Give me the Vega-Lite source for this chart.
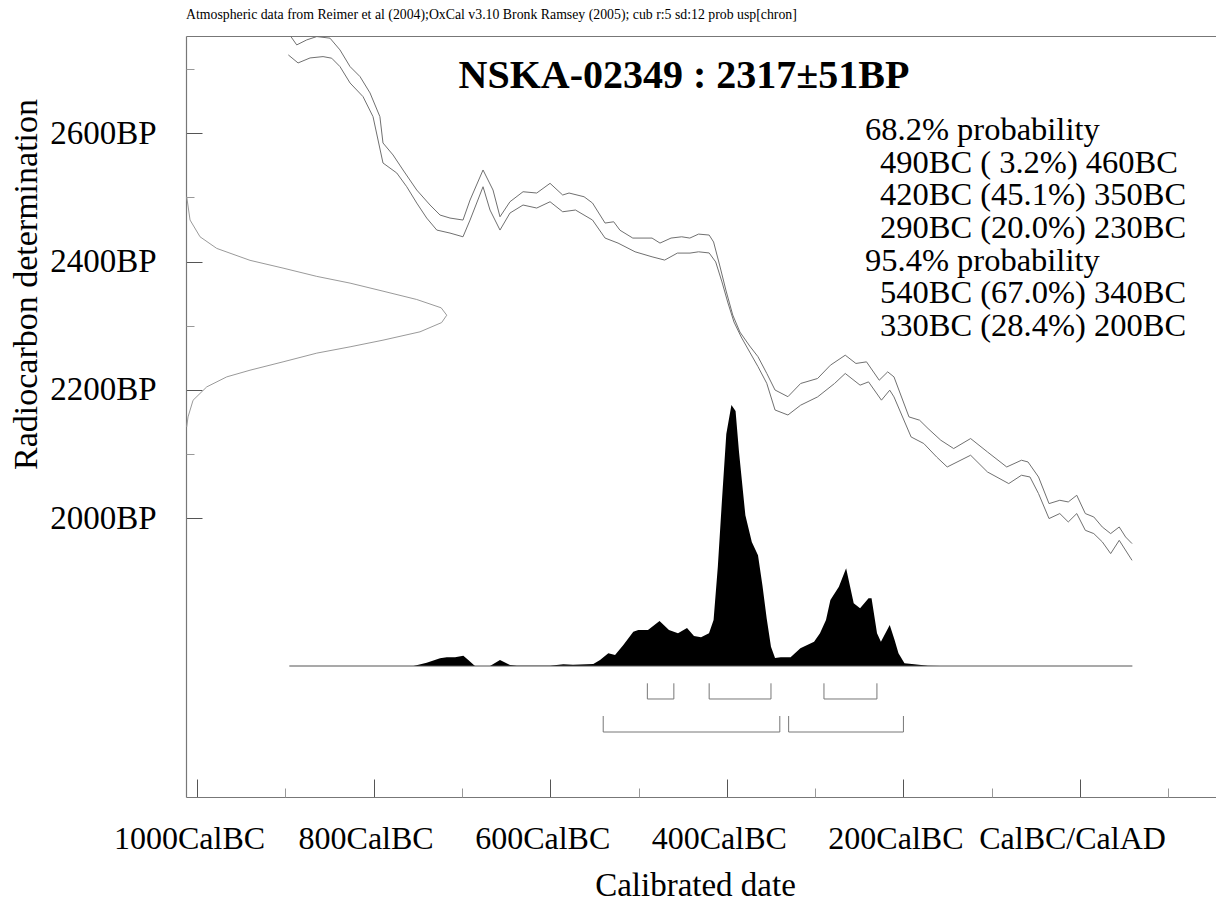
{
  "$schema": "https://vega.github.io/schema/vega-lite/v6.json",
  "width": 1030,
  "height": 761,
  "autosize": {"type": "none"},
  "padding": {"left": 186, "top": 36, "right": 0, "bottom": 107},
  "background": "white",
  "config": {
    "view": {"stroke": null},
    "font": "Liberation Serif",
    "axis": {"labelFont": "Liberation Serif", "titleFont": "Liberation Serif", "labelColor": "black", "titleColor": "black", "titleFontWeight": "normal", "grid": false, "labelFlush": false, "labelOverlap": false, "labelBound": false, "labelLimit": 1000}
  },
  "title": {"text": "Atmospheric data from Reimer et al (2004);OxCal v3.10 Bronk Ramsey (2005); cub r:5 sd:12 prob usp[chron]", "anchor": "start", "frame": "group", "font": "Liberation Serif", "fontSize": 13.8, "fontWeight": "normal", "color": "black", "baseline": "alphabetic", "offset": 3},
  "datasets": {
    "calib": [
      {"band": "upper", "yr": -896.6, "bp": 2756.4}, {"band": "upper", "yr": -887.1, "bp": 2737.7}, {"band": "upper", "yr": -875.8, "bp": 2745.5}, {"band": "upper", "yr": -864.4, "bp": 2750.7}, {"band": "upper", "yr": -849.4, "bp": 2748.2}, {"band": "upper", "yr": -838.1, "bp": 2729.9}, {"band": "upper", "yr": -826.7, "bp": 2703.9}, {"band": "upper", "yr": -815.4, "bp": 2688.3}, {"band": "upper", "yr": -804.1, "bp": 2662.9}, {"band": "upper", "yr": -792.9, "bp": 2625.9}, {"band": "upper", "yr": -789.4, "bp": 2584.9}, {"band": "upper", "yr": -778.0, "bp": 2566.2}, {"band": "upper", "yr": -766.7, "bp": 2542.8}, {"band": "upper", "yr": -751.2, "bp": 2511.6}, {"band": "upper", "yr": -736.1, "bp": 2488.2}, {"band": "upper", "yr": -724.8, "bp": 2472.6}, {"band": "upper", "yr": -713.5, "bp": 2467.9}, {"band": "upper", "yr": -698.8, "bp": 2464.8}, {"band": "upper", "yr": -690.8, "bp": 2496.0}, {"band": "upper", "yr": -676.1, "bp": 2542.8}, {"band": "upper", "yr": -664.8, "bp": 2511.6}, {"band": "upper", "yr": -656.9, "bp": 2469.9}, {"band": "upper", "yr": -645.6, "bp": 2493.3}, {"band": "upper", "yr": -630.8, "bp": 2508.9}, {"band": "upper", "yr": -615.3, "bp": 2506.9}, {"band": "upper", "yr": -600.2, "bp": 2522.0}, {"band": "upper", "yr": -585.9, "bp": 2503.8}, {"band": "upper", "yr": -578.7, "bp": 2506.9}, {"band": "upper", "yr": -561.7, "bp": 2501.1}, {"band": "upper", "yr": -552.1, "bp": 2491.3}, {"band": "upper", "yr": -537.9, "bp": 2460.1}, {"band": "upper", "yr": -528.1, "bp": 2462.1}, {"band": "upper", "yr": -521.0, "bp": 2448.9}, {"band": "upper", "yr": -506.5, "bp": 2436.7}, {"band": "upper", "yr": -484.7, "bp": 2436.7}, {"band": "upper", "yr": -475.7, "bp": 2428.9}, {"band": "upper", "yr": -463.2, "bp": 2436.7}, {"band": "upper", "yr": -451.1, "bp": 2438.7}, {"band": "upper", "yr": -441.9, "bp": 2436.7}, {"band": "upper", "yr": -432.0, "bp": 2442.9}, {"band": "upper", "yr": -420.0, "bp": 2441.4}, {"band": "upper", "yr": -415.0, "bp": 2430.6}, {"band": "upper", "yr": -407.9, "bp": 2393.2}, {"band": "upper", "yr": -401.1, "bp": 2355.8}, {"band": "upper", "yr": -393.3, "bp": 2316.8}, {"band": "upper", "yr": -385.2, "bp": 2290.3}, {"band": "upper", "yr": -374.1, "bp": 2268.5}, {"band": "upper", "yr": -364.7, "bp": 2251.8}, {"band": "upper", "yr": -354.8, "bp": 2225.9}, {"band": "upper", "yr": -345.4, "bp": 2199.9}, {"band": "upper", "yr": -330.8, "bp": 2189.5}, {"band": "upper", "yr": -316.4, "bp": 2210.1}, {"band": "upper", "yr": -297.2, "bp": 2217.9}, {"band": "upper", "yr": -282.7, "bp": 2238.6}, {"band": "upper", "yr": -265.9, "bp": 2254.2}, {"band": "upper", "yr": -253.8, "bp": 2241.3}, {"band": "upper", "yr": -241.8, "bp": 2243.8}, {"band": "upper", "yr": -227.4, "bp": 2215.2}, {"band": "upper", "yr": -217.8, "bp": 2228.2}, {"band": "upper", "yr": -210.7, "bp": 2220.4}, {"band": "upper", "yr": -193.7, "bp": 2158.0}, {"band": "upper", "yr": -181.7, "bp": 2152.9}, {"band": "upper", "yr": -172.1, "bp": 2139.9}, {"band": "upper", "yr": -157.7, "bp": 2121.7}, {"band": "upper", "yr": -143.1, "bp": 2108.7}, {"band": "upper", "yr": -123.9, "bp": 2124.3}, {"band": "upper", "yr": -104.8, "bp": 2103.4}, {"band": "upper", "yr": -83.0, "bp": 2080.0}, {"band": "upper", "yr": -66.3, "bp": 2090.5}, {"band": "upper", "yr": -58.9, "bp": 2087.8}, {"band": "upper", "yr": -47.0, "bp": 2064.4}, {"band": "upper", "yr": -35.1, "bp": 2022.9}, {"band": "upper", "yr": -22.9, "bp": 2028.1}, {"band": "upper", "yr": -13.3, "bp": 2025.5}, {"band": "upper", "yr": -3.7, "bp": 2035.9}, {"band": "upper", "yr": 6.0, "bp": 2007.4}, {"band": "upper", "yr": 15.6, "bp": 2002.1}, {"band": "upper", "yr": 25.2, "bp": 1986.5}, {"band": "upper", "yr": 34.7, "bp": 1976.2}, {"band": "upper", "yr": 44.4, "bp": 1986.5}, {"band": "upper", "yr": 51.6, "bp": 1970.9}, {"band": "upper", "yr": 58.9, "bp": 1960.6},
      {"band": "lower", "yr": -896.6, "bp": 2722.1}, {"band": "lower", "yr": -885.6, "bp": 2709.6}, {"band": "lower", "yr": -872.0, "bp": 2717.4}, {"band": "lower", "yr": -857.3, "bp": 2719.5}, {"band": "lower", "yr": -847.5, "bp": 2717.0}, {"band": "lower", "yr": -838.1, "bp": 2703.9}, {"band": "lower", "yr": -826.7, "bp": 2678.4}, {"band": "lower", "yr": -812.0, "bp": 2657.1}, {"band": "lower", "yr": -800.7, "bp": 2625.9}, {"band": "lower", "yr": -789.4, "bp": 2553.7}, {"band": "lower", "yr": -773.8, "bp": 2538.1}, {"band": "lower", "yr": -762.5, "bp": 2516.7}, {"band": "lower", "yr": -751.2, "bp": 2491.3}, {"band": "lower", "yr": -739.9, "bp": 2467.9}, {"band": "lower", "yr": -728.5, "bp": 2449.2}, {"band": "lower", "yr": -713.5, "bp": 2444.5}, {"band": "lower", "yr": -698.8, "bp": 2438.7}, {"band": "lower", "yr": -690.8, "bp": 2464.8}, {"band": "lower", "yr": -676.1, "bp": 2516.7}, {"band": "lower", "yr": -668.2, "bp": 2480.4}, {"band": "lower", "yr": -656.9, "bp": 2449.2}, {"band": "lower", "yr": -645.6, "bp": 2475.7}, {"band": "lower", "yr": -630.8, "bp": 2488.2}, {"band": "lower", "yr": -615.3, "bp": 2483.5}, {"band": "lower", "yr": -600.2, "bp": 2493.3}, {"band": "lower", "yr": -585.9, "bp": 2477.7}, {"band": "lower", "yr": -571.4, "bp": 2480.4}, {"band": "lower", "yr": -552.1, "bp": 2464.8}, {"band": "lower", "yr": -537.9, "bp": 2436.7}, {"band": "lower", "yr": -523.2, "bp": 2428.9}, {"band": "lower", "yr": -503.9, "bp": 2415.3}, {"band": "lower", "yr": -484.7, "bp": 2407.5}, {"band": "lower", "yr": -470.4, "bp": 2402.4}, {"band": "lower", "yr": -456.0, "bp": 2413.3}, {"band": "lower", "yr": -441.7, "bp": 2413.3}, {"band": "lower", "yr": -432.0, "bp": 2415.3}, {"band": "lower", "yr": -420.0, "bp": 2413.5}, {"band": "lower", "yr": -412.6, "bp": 2399.5}, {"band": "lower", "yr": -405.5, "bp": 2368.3}, {"band": "lower", "yr": -398.7, "bp": 2335.5}, {"band": "lower", "yr": -391.9, "bp": 2305.9}, {"band": "lower", "yr": -383.7, "bp": 2282.5}, {"band": "lower", "yr": -374.1, "bp": 2259.1}, {"band": "lower", "yr": -364.7, "bp": 2236.3}, {"band": "lower", "yr": -354.8, "bp": 2210.4}, {"band": "lower", "yr": -345.4, "bp": 2168.8}, {"band": "lower", "yr": -330.8, "bp": 2161.0}, {"band": "lower", "yr": -316.4, "bp": 2176.3}, {"band": "lower", "yr": -297.2, "bp": 2189.2}, {"band": "lower", "yr": -278.0, "bp": 2210.1}, {"band": "lower", "yr": -265.9, "bp": 2225.7}, {"band": "lower", "yr": -249.1, "bp": 2207.5}, {"band": "lower", "yr": -239.5, "bp": 2212.6}, {"band": "lower", "yr": -224.9, "bp": 2184.1}, {"band": "lower", "yr": -215.5, "bp": 2199.7}, {"band": "lower", "yr": -210.7, "bp": 2189.2}, {"band": "lower", "yr": -191.3, "bp": 2126.8}, {"band": "lower", "yr": -176.9, "bp": 2116.5}, {"band": "lower", "yr": -162.4, "bp": 2095.6}, {"band": "lower", "yr": -150.4, "bp": 2080.0}, {"band": "lower", "yr": -123.9, "bp": 2098.3}, {"band": "lower", "yr": -104.8, "bp": 2072.2}, {"band": "lower", "yr": -80.7, "bp": 2054.1}, {"band": "lower", "yr": -66.3, "bp": 2067.1}, {"band": "lower", "yr": -56.7, "bp": 2064.4}, {"band": "lower", "yr": -47.0, "bp": 2038.5}, {"band": "lower", "yr": -35.1, "bp": 1999.6}, {"band": "lower", "yr": -22.9, "bp": 2007.4}, {"band": "lower", "yr": -13.3, "bp": 1994.3}, {"band": "lower", "yr": -3.7, "bp": 2007.4}, {"band": "lower", "yr": 6.0, "bp": 1981.3}, {"band": "lower", "yr": 15.6, "bp": 1976.2}, {"band": "lower", "yr": 25.2, "bp": 1963.3}, {"band": "lower", "yr": 34.7, "bp": 1945.0}, {"band": "lower", "yr": 44.4, "bp": 1965.7}, {"band": "lower", "yr": 58.9, "bp": 1934.5}
    ],
    "gauss": [
      {"yr": -1011.7, "bp": 2142.4}, {"yr": -1010.2, "bp": 2158.0}, {"yr": -1004.5, "bp": 2184.0}, {"yr": -989.0, "bp": 2204.8}, {"yr": -966.4, "bp": 2220.4}, {"yr": -940.0, "bp": 2230.8}, {"yr": -902.6, "bp": 2243.8}, {"yr": -864.4, "bp": 2257.4}, {"yr": -826.7, "bp": 2267.2}, {"yr": -789.4, "bp": 2277.6}, {"yr": -747.5, "bp": 2290.6}, {"yr": -723.0, "bp": 2305.0}, {"yr": -717.2, "bp": 2316.5}, {"yr": -723.5, "bp": 2328.0}, {"yr": -751.2, "bp": 2341.0}, {"yr": -789.4, "bp": 2354.0}, {"yr": -826.7, "bp": 2366.5}, {"yr": -864.4, "bp": 2377.0}, {"yr": -902.6, "bp": 2389.9}, {"yr": -940.0, "bp": 2402.0}, {"yr": -977.7, "bp": 2420.6}, {"yr": -996.6, "bp": 2438.7}, {"yr": -1007.9, "bp": 2464.8}, {"yr": -1011.7, "bp": 2501.1}
    ],
    "density": [
      {"yr": -895.5, "p": 0}, {"yr": -755.0, "p": 0}, {"yr": -739.9, "p": 0.0126}, {"yr": -724.8, "p": 0.0295}, {"yr": -717.2, "p": 0.0333}, {"yr": -707.8, "p": 0.0333}, {"yr": -698.4, "p": 0.0395}, {"yr": -692.8, "p": 0.023}, {"yr": -685.2, "p": 0}, {"yr": -668.2, "p": 0}, {"yr": -656.9, "p": 0.023}, {"yr": -645.6, "p": 0.0038}, {"yr": -637.9, "p": 0.001}, {"yr": -600.2, "p": 0.001}, {"yr": -585.2, "p": 0.0065}, {"yr": -574.2, "p": 0.005}, {"yr": -551.2, "p": 0.0077}, {"yr": -543.6, "p": 0.023}, {"yr": -534.2, "p": 0.0487}, {"yr": -526.6, "p": 0.0421}, {"yr": -517.2, "p": 0.0805}, {"yr": -505.9, "p": 0.1315}, {"yr": -500.3, "p": 0.1379}, {"yr": -489.3, "p": 0.1379}, {"yr": -476.2, "p": 0.1724}, {"yr": -465.5, "p": 0.1379}, {"yr": -455.3, "p": 0.1252}, {"yr": -445.1, "p": 0.1456}, {"yr": -437.2, "p": 0.1149}, {"yr": -429.2, "p": 0.1098}, {"yr": -420.2, "p": 0.1252}, {"yr": -415.0, "p": 0.1762}, {"yr": -410.2, "p": 0.3806}, {"yr": -405.5, "p": 0.636}, {"yr": -400.6, "p": 0.8889}, {"yr": -394.8, "p": 1.0}, {"yr": -390.1, "p": 0.977}, {"yr": -386.2, "p": 0.8199}, {"yr": -379.0, "p": 0.5773}, {"yr": -371.7, "p": 0.4751}, {"yr": -364.7, "p": 0.424}, {"yr": -359.7, "p": 0.3091}, {"yr": -354.8, "p": 0.1813}, {"yr": -350.0, "p": 0.0739}, {"yr": -345.4, "p": 0.031}, {"yr": -339.0, "p": 0.0333}, {"yr": -327.8, "p": 0.0333}, {"yr": -316.7, "p": 0.0678}, {"yr": -301.2, "p": 0.0932}, {"yr": -294.5, "p": 0.1251}, {"yr": -287.7, "p": 0.1762}, {"yr": -282.7, "p": 0.2529}, {"yr": -273.1, "p": 0.3039}, {"yr": -264.9, "p": 0.3743}, {"yr": -256.3, "p": 0.2402}, {"yr": -249.1, "p": 0.221}, {"yr": -239.5, "p": 0.2593}, {"yr": -236.1, "p": 0.2593}, {"yr": -229.9, "p": 0.1251}, {"yr": -225.5, "p": 0.0932}, {"yr": -215.5, "p": 0.1571}, {"yr": -210.0, "p": 0.0996}, {"yr": -205.6, "p": 0.0486}, {"yr": -198.8, "p": 0.0103}, {"yr": -187.7, "p": 0.0065}, {"yr": -172.2, "p": 0.001}, {"yr": -158.6, "p": 0}, {"yr": 59.3, "p": 0}
    ],
    "ranges": [
      {"conf": "68.2", "from": -490, "to": -460},
      {"conf": "68.2", "from": -420, "to": -350},
      {"conf": "68.2", "from": -290, "to": -230},
      {"conf": "95.4", "from": -540, "to": -340},
      {"conf": "95.4", "from": -330, "to": -200}
    ]
  },
  "layer": [
    {
      "data": {"name": "calib"},
      "mark": {"type": "line", "stroke": "#707070", "strokeWidth": 1, "clip": true},
      "encoding": {
        "x": {"field": "yr", "type": "quantitative", "scale": {"domain": [-1012.5, 154.0], "nice": false, "zero": false},
          "axis": {"orient": "bottom", "values": [-1000, -800, -600, -400, -200, 0], "labelExpr": "datum.value < 0 ? (-datum.value) + 'CalBC' : 'CalBC/CalAD'", "tickSize": -18, "tickColor": "#555555", "tickWidth": 1, "domainColor": "#777777", "domainWidth": 1.2, "labelFontSize": 32, "labelBaseline": "alphabetic", "labelPadding": 69, "labelOffset": -8, "title": "Calibrated date", "titleFontSize": 33, "titleX": 509, "titleY": 98, "titleBaseline": "alphabetic", "titleAnchor": null}},
        "y": {"field": "bp", "type": "quantitative", "scale": {"domain": [1565.7, 2751.6], "nice": false, "zero": false},
          "axis": {"orient": "left", "values": [2000, 2200, 2400, 2600], "labelExpr": "datum.value + 'BP'", "tickSize": -16, "tickColor": "#555555", "tickWidth": 1, "domainColor": "#777777", "domainWidth": 1.2, "labelFontSize": 33, "labelBaseline": "middle", "labelPadding": 46, "title": "Radiocarbon determination", "titleFontSize": 34, "titleX": -150, "titleY": 248, "titleAngle": -90, "titleBaseline": "alphabetic", "titleAlign": "center"}},
        "detail": {"field": "band", "type": "nominal"}
      }
    },
    {
      "data": {"name": "gauss"},
      "mark": {"type": "line", "stroke": "#9a9a9a", "strokeWidth": 1},
      "encoding": {
        "x": {"field": "yr", "type": "quantitative", "scale": {"domain": [-1012.5, 154.0], "nice": false, "zero": false},
          "axis": {"orient": "bottom", "values": [-900, -700, -500, -300, -100, 100], "labels": false, "domain": false, "tickSize": -9, "tickColor": "#999999", "tickWidth": 1, "title": null}},
        "y": {"field": "bp", "type": "quantitative", "scale": {"domain": [1565.7, 2751.6], "nice": false, "zero": false},
          "axis": {"orient": "left", "values": [2100, 2300, 2500, 2700], "labels": false, "domain": false, "tickSize": -8, "tickColor": "#999999", "tickWidth": 1, "title": null}},
        "order": {"field": "bp", "type": "quantitative"}
      }
    },
    {
      "data": {"name": "density"},
      "mark": {"type": "area", "fill": "black", "interpolate": "linear"},
      "encoding": {
        "x": {"field": "yr", "type": "quantitative", "scale": {"domain": [-1012.5, 154.0], "nice": false, "zero": false}, "axis": null},
        "y": {"field": "p", "type": "quantitative", "scale": {"domain": [-0.5019, 2.4138], "nice": false, "zero": false}, "axis": null}
      }
    },
    {
      "data": {"name": "density"},
      "mark": {"type": "rule", "stroke": "#555555", "strokeWidth": 1.2},
      "encoding": {
        "x": {"aggregate": "min", "field": "yr", "type": "quantitative", "scale": {"domain": [-1012.5, 154.0], "nice": false, "zero": false},
          "axis": {"orient": "top", "ticks": false, "labels": false, "domain": true, "domainColor": "#777777", "domainWidth": 1.2, "title": null}},
        "x2": {"aggregate": "max", "field": "yr"},
        "y": {"datum": 0, "type": "quantitative", "scale": {"domain": [-0.5019, 2.4138], "nice": false, "zero": false}, "axis": null}
      }
    },
    {
      "data": {"name": "ranges"},
      "transform": [{"filter": "datum.conf == '68.2'"}],
      "mark": {"type": "rule", "stroke": "#777777", "strokeWidth": 1},
      "encoding": {
        "x": {"field": "from", "type": "quantitative", "scale": {"domain": [-1012.5, 154.0], "nice": false, "zero": false}, "axis": null},
        "x2": {"field": "to"},
        "y": {"datum": -0.1264, "type": "quantitative", "scale": {"domain": [-0.5019, 2.4138], "nice": false, "zero": false}, "axis": null}
      }
    },
    {
      "data": {"name": "ranges"},
      "transform": [{"filter": "datum.conf == '68.2'"}, {"fold": ["from", "to"], "as": ["end", "edge"]}],
      "mark": {"type": "rule", "stroke": "#777777", "strokeWidth": 1},
      "encoding": {
        "x": {"field": "edge", "type": "quantitative", "scale": {"domain": [-1012.5, 154.0], "nice": false, "zero": false}, "axis": null},
        "y": {"datum": -0.0663, "type": "quantitative", "scale": {"domain": [-0.5019, 2.4138], "nice": false, "zero": false}, "axis": null},
        "y2": {"datum": -0.1264}
      }
    },
    {
      "data": {"name": "ranges"},
      "transform": [{"filter": "datum.conf == '95.4'"}],
      "mark": {"type": "rule", "stroke": "#777777", "strokeWidth": 1},
      "encoding": {
        "x": {"field": "from", "type": "quantitative", "scale": {"domain": [-1012.5, 154.0], "nice": false, "zero": false}, "axis": null},
        "x2": {"field": "to"},
        "y": {"datum": -0.2529, "type": "quantitative", "scale": {"domain": [-0.5019, 2.4138], "nice": false, "zero": false}, "axis": null}
      }
    },
    {
      "data": {"name": "ranges"},
      "transform": [{"filter": "datum.conf == '95.4'"}, {"fold": ["from", "to"], "as": ["end", "edge"]}],
      "mark": {"type": "rule", "stroke": "#777777", "strokeWidth": 1},
      "encoding": {
        "x": {"field": "edge", "type": "quantitative", "scale": {"domain": [-1012.5, 154.0], "nice": false, "zero": false}, "axis": null},
        "y": {"datum": -0.1916, "type": "quantitative", "scale": {"domain": [-0.5019, 2.4138], "nice": false, "zero": false}, "axis": null},
        "y2": {"datum": -0.2529}
      }
    },
    {
      "data": {"values": [{"label": "NSKA-02349 : 2317±51BP"}]},
      "mark": {"type": "text", "font": "Liberation Serif", "fontSize": 40, "fontWeight": "bold", "align": "center", "baseline": "middle", "color": "black"},
      "encoding": {
        "x": {"datum": -448.5, "type": "quantitative", "scale": {"domain": [-1012.5, 154.0], "nice": false, "zero": false}, "axis": null},
        "y": {"datum": 2688.5, "type": "quantitative", "scale": {"domain": [1565.7, 2751.6], "nice": false, "zero": false}, "axis": null},
        "text": {"field": "label", "type": "nominal"}
      }
    },
    {
      "data": {"values": [{"label": "68.2% probability"}]},
      "mark": {"type": "text", "font": "Liberation Serif", "fontSize": 32.5, "align": "left", "baseline": "alphabetic", "color": "black"},
      "encoding": {
        "x": {"datum": -243.5, "type": "quantitative", "scale": {"domain": [-1012.5, 154.0], "nice": false, "zero": false}, "axis": null},
        "y": {"datum": 2589.6, "type": "quantitative", "scale": {"domain": [1565.7, 2751.6], "nice": false, "zero": false}, "axis": null},
        "text": {"field": "label", "type": "nominal"}
      }
    },
    {
      "data": {"values": [{"lines": ["490BC ( 3.2%) 460BC", "420BC (45.1%) 350BC", "290BC (20.0%) 230BC"]}]},
      "mark": {"type": "text", "font": "Liberation Serif", "fontSize": 32.5, "align": "left", "baseline": "alphabetic", "lineHeight": 32.7, "color": "black"},
      "encoding": {
        "x": {"datum": -226.5, "type": "quantitative", "scale": {"domain": [-1012.5, 154.0], "nice": false, "zero": false}, "axis": null},
        "y": {"datum": 2538.6, "type": "quantitative", "scale": {"domain": [1565.7, 2751.6], "nice": false, "zero": false}, "axis": null},
        "text": {"field": "lines"}
      }
    },
    {
      "data": {"values": [{"label": "95.4% probability"}]},
      "mark": {"type": "text", "font": "Liberation Serif", "fontSize": 32.5, "align": "left", "baseline": "alphabetic", "color": "black"},
      "encoding": {
        "x": {"datum": -243.5, "type": "quantitative", "scale": {"domain": [-1012.5, 154.0], "nice": false, "zero": false}, "axis": null},
        "y": {"datum": 2385.8, "type": "quantitative", "scale": {"domain": [1565.7, 2751.6], "nice": false, "zero": false}, "axis": null},
        "text": {"field": "label", "type": "nominal"}
      }
    },
    {
      "data": {"values": [{"lines": ["540BC (67.0%) 340BC", "330BC (28.4%) 200BC"]}]},
      "mark": {"type": "text", "font": "Liberation Serif", "fontSize": 32.5, "align": "left", "baseline": "alphabetic", "lineHeight": 32.7, "color": "black"},
      "encoding": {
        "x": {"datum": -226.5, "type": "quantitative", "scale": {"domain": [-1012.5, 154.0], "nice": false, "zero": false}, "axis": null},
        "y": {"datum": 2334.9, "type": "quantitative", "scale": {"domain": [1565.7, 2751.6], "nice": false, "zero": false}, "axis": null},
        "text": {"field": "lines"}
      }
    }
  ],
  "resolve": {"scale": {"y": "independent"}, "axis": {"x": "independent", "y": "independent"}}
}
